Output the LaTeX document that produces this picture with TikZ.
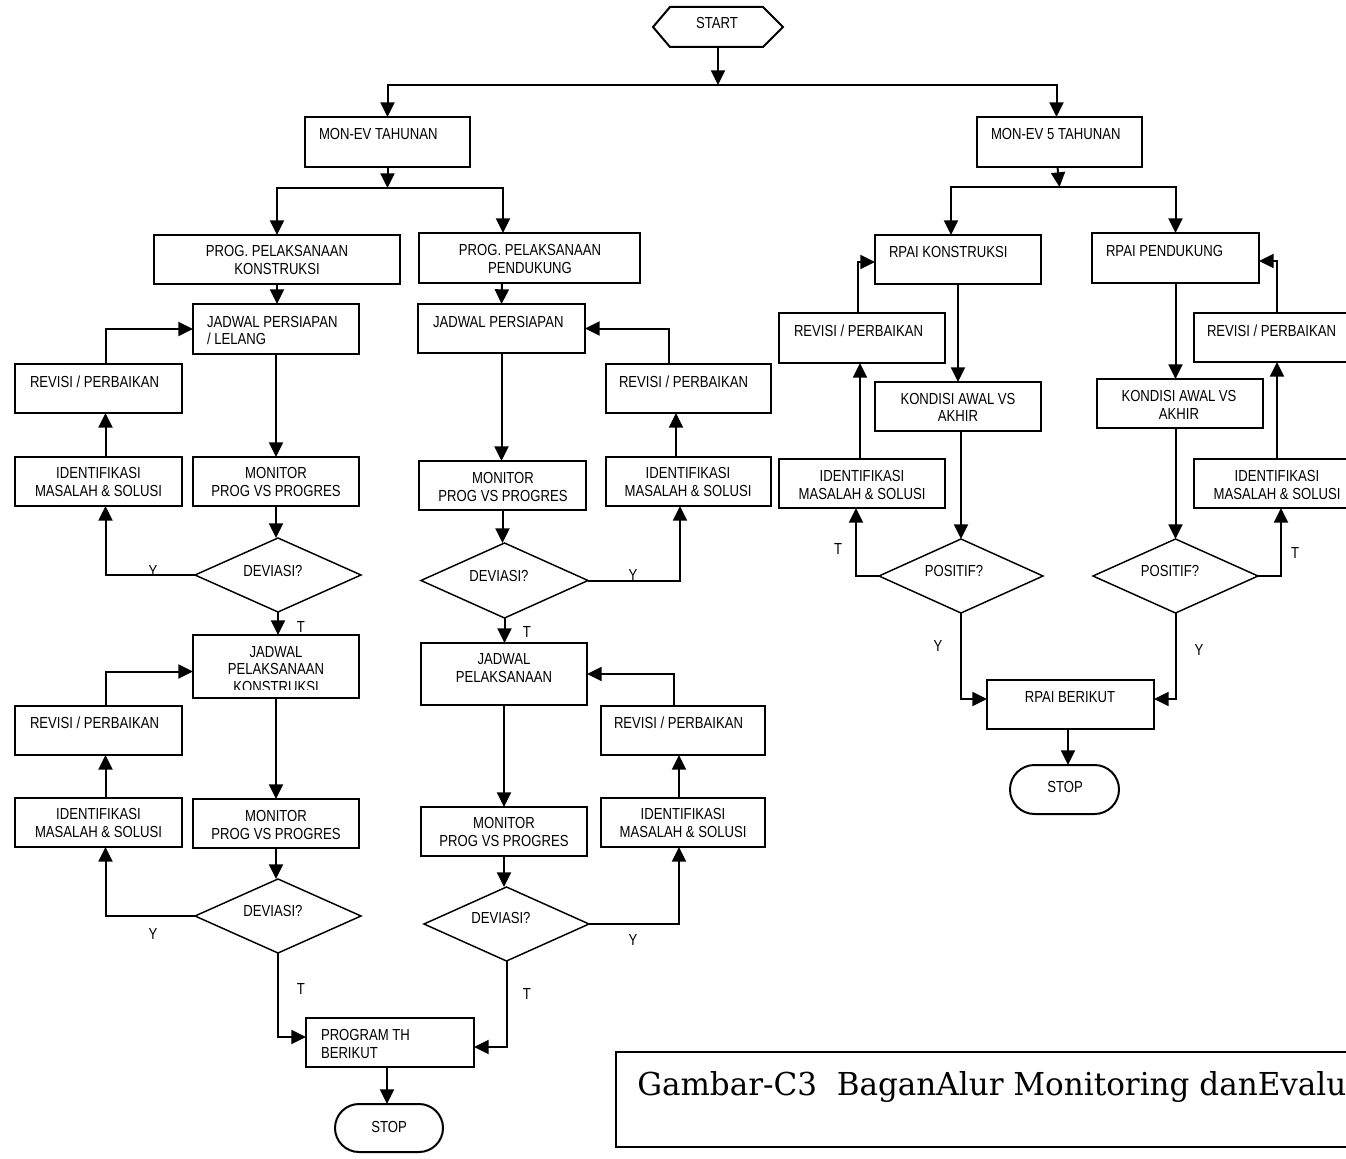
\documentclass[tikz,border=0pt]{standalone}
\usepackage{fontspec}
\usepackage{graphicx}
\setmainfont{Liberation Sans}
\newfontfamily\nar[FakeStretch=0.82]{Liberation Sans}
\newfontfamily\capfont{DejaVu Serif}
\usetikzlibrary{arrows.meta,shapes.geometric,shapes.misc,calc}
\newcommand\mybox[5]{\node[box, minimum width={(#4-#2)*0.75pt}, minimum height={(#5-#3)*0.75pt}] (#1) at ({(#2+#4)/2},{(#3+#5)/2}) {};}
\newcommand\mydia[5]{\node[dia, minimum width={(#4-#2)*0.75pt}, minimum height={(#5-#3)*0.75pt}] (#1) at ({(#2+#4)/2},{(#3+#5)/2}) {};}
\newcommand\myterm[5]{\node[term, minimum width={(#4-#2)*0.75pt}, minimum height={(#5-#3)*0.75pt}] (#1) at ({(#2+#4)/2},{(#3+#5)/2}) {};}
\begin{document}
\begin{tikzpicture}[x=0.75pt,y=-0.75pt,
 box/.style={draw,line width=1.5pt,rectangle,inner sep=0pt,outer sep=0pt},
 dia/.style={draw,line width=1.1pt,diamond,inner sep=0pt,outer sep=0pt},
 term/.style={draw,line width=1.5pt,rounded rectangle,inner sep=0pt,outer sep=0pt},
 txt/.style={inner sep=0pt,outer sep=0pt,font={\nar\fontsize{12pt}{13.2pt}\selectfont},align=center},
 ltxt/.style={txt,align=left,anchor=west},
 arr/.style={line width=1.5pt,-{Triangle[length=11pt,width=10.5pt]}},
 ln/.style={line width=1.5pt}]
\path[use as bounding box] (0,0) rectangle (1346,1159);
\fill[white] (0,0) rectangle (1346,1159);
\clip (0,0) rectangle (1346,1159);

% ---------- START ----------
\node[inner sep=0pt,outer sep=0pt,minimum width=97.5pt,minimum height=30pt] (start) at (718,27) {};
\draw[ln] (start.west) -- ($(start.north west)+(17,0)$) -- ($(start.north east)+(-20,0)$) -- (start.east) -- ($(start.south east)+(-20,0)$) -- ($(start.south west)+(17,0)$) -- cycle;
\node[txt] (starttxt) at (717,23) {START};
\coordinate (j0) at (718,85);

% ---------- top level boxes ----------
\mybox{monev}{305}{117}{470}{167}
\node[ltxt] (monevt) at (319,134) {MON-EV TAHUNAN};
\mybox{monevf}{977}{117}{1142}{167}
\node[ltxt] (moneft) at (991,134) {MON-EV 5 TAHUNAN};
\coordinate (j1) at (387.5,188);
\coordinate (j2) at (1059.5,187);

% ---------- left column ----------
\mybox{progk}{154}{235}{400}{284}
\node[txt] (progkt) at (277,260) {PROG. PELAKSANAAN\\KONSTRUKSI};
\mybox{jadka}{193}{304}{359}{354}
\node[ltxt] (jadkat) at (207,330.5) {JADWAL PERSIAPAN\\/ LELANG};
\mybox{revka}{15}{364}{182}{413}
\node[ltxt] (revkat) at (30,382) {REVISI / PERBAIKAN};
\mybox{idka}{15}{457}{182}{506}
\node[txt] (idkat) at (98.5,482) {IDENTIFIKASI\\MASALAH \& SOLUSI};
\mybox{monka}{193}{457}{359}{506}
\node[txt] (monkat) at (276,482) {MONITOR\\PROG VS PROGRES};
\mydia{devka}{195}{538}{361}{612}
\node[txt] (devkat) at (273,571) {DEVIASI?};
\mybox{jadkb}{193}{635}{359}{698}
\begin{scope}
\clip (193,635) rectangle (359,689);
\node[txt] (jadkbt) at (276,669.5) {JADWAL\\PELAKSANAAN\\KONSTRUKSI};
\end{scope}
\mybox{revkb}{15}{706}{182}{755}
\node[ltxt] (revkbt) at (30,723) {REVISI / PERBAIKAN};
\mybox{idkb}{15}{798}{182}{847}
\node[txt] (idkbt) at (98.5,823) {IDENTIFIKASI\\MASALAH \& SOLUSI};
\mybox{monkb}{193}{799}{359}{848}
\node[txt] (monkbt) at (276,825) {MONITOR\\PROG VS PROGRES};
\mydia{devkb}{195}{879}{361}{953}
\node[txt] (devkbt) at (273,911) {DEVIASI?};
\mybox{progth}{306}{1018}{474}{1067}
\node[ltxt] (progtht) at (321,1044) {PROGRAM TH\\BERIKUT};
\myterm{stopl}{335}{1104}{443}{1152}
\node[txt] (stoplt) at (389,1127) {STOP};

% ---------- middle column ----------
\mybox{progp}{419}{233}{640}{283}
\node[txt] (progpt) at (530,259) {PROG. PELAKSANAAN\\PENDUKUNG};
\mybox{jadpa}{418}{304}{585}{353}
\node[ltxt] (jadpat) at (433,322) {JADWAL PERSIAPAN};
\mybox{revpa}{606}{364}{771}{413}
\node[ltxt] (revpat) at (619,382) {REVISI / PERBAIKAN};
\mybox{idpa}{606}{457}{771}{506}
\node[txt] (idpat) at (688,482) {IDENTIFIKASI\\MASALAH \& SOLUSI};
\mybox{monpa}{419}{461}{586}{510}
\node[txt] (monpat) at (503,487) {MONITOR\\PROG VS PROGRES};
\mydia{devpa}{421}{543}{588}{618}
\node[txt] (devpat) at (499,576) {DEVIASI?};
\mybox{jadpb}{421}{643}{587}{705}
\node[txt] (jadpbt) at (504,668) {JADWAL\\PELAKSANAAN};
\mybox{revpb}{601}{706}{765}{755}
\node[ltxt] (revpbt) at (614,723) {REVISI / PERBAIKAN};
\mybox{idpb}{601}{798}{765}{847}
\node[txt] (idpbt) at (683,823) {IDENTIFIKASI\\MASALAH \& SOLUSI};
\mybox{monpb}{421}{807}{587}{856}
\node[txt] (monpbt) at (504,832) {MONITOR\\PROG VS PROGRES};
\mydia{devpb}{424}{887}{589}{961}
\node[txt] (devpbt) at (501,918) {DEVIASI?};

% ---------- right part ----------
\mybox{rpaik}{875}{235}{1041}{284}
\node[ltxt] (rpaikt) at (889,252) {RPAI KONSTRUKSI};
\mybox{rpaip}{1092}{233}{1259}{283}
\node[ltxt] (rpaipt) at (1106,251) {RPAI PENDUKUNG};
\mybox{revra}{779}{313}{945}{363}
\node[ltxt] (revrat) at (794,331) {REVISI / PERBAIKAN};
\mybox{kondra}{875}{382}{1041}{431}
\node[txt] (kondrat) at (958,407.5) {KONDISI AWAL VS\\AKHIR};
\mybox{idra}{779}{459}{945}{508}
\node[txt] (idrat) at (862,485) {IDENTIFIKASI\\MASALAH \& SOLUSI};
\mydia{posra}{879}{539}{1043}{613}
\node[txt] (posrat) at (954,571) {POSITIF?};
\mybox{revrb}{1194}{313}{1360}{362}
\node[ltxt] (revrbt) at (1207,331) {REVISI / PERBAIKAN};
\mybox{kondrb}{1097}{379}{1263}{428}
\node[txt] (kondrbt) at (1179,405) {KONDISI AWAL VS\\AKHIR};
\mybox{idrb}{1194}{459}{1360}{508}
\node[txt] (idrbt) at (1277,485) {IDENTIFIKASI\\MASALAH \& SOLUSI};
\mydia{posrb}{1093}{539}{1258}{613}
\node[txt] (posrbt) at (1170,571) {POSITIF?};
\mybox{rpaib}{987}{680}{1154}{729}
\node[txt] (rpaibt) at (1070,697) {RPAI BERIKUT};
\myterm{stopr}{1010}{765}{1119}{814}
\node[txt] (stoprt) at (1065,787) {STOP};

% ---------- caption ----------
\mybox{capbox}{616}{1052}{1362}{1147}
\node[anchor=base west,inner sep=0pt] (captxt) at (637,1095) {\resizebox{531.75pt}{18pt}{\capfont Gambar-C3\ \ BaganAlur Monitoring danEvalu}};

% ---------- labels ----------
\node[txt] (lya) at (153,571) {Y};
\node[txt] (lta) at (301,627) {T};
\node[txt] (lyb) at (153,934) {Y};
\node[txt] (ltb) at (301,989) {T};
\node[txt] (lyc) at (633,575) {Y};
\node[txt] (ltc) at (527,632) {T};
\node[txt] (lyd) at (633,940) {Y};
\node[txt] (ltd) at (527,994) {T};
\node[txt] (lte) at (838,549) {T};
\node[txt] (lye) at (938,646) {Y};
\node[txt] (ltf) at (1295,553) {T};
\node[txt] (lyf) at (1199,650) {Y};

% ---------- connectors ----------
\draw[arr] (start.south) -- (j0);
\draw[arr] (j0) -| (monev.north);
\draw[arr] (j0) -| ($(monevf.north)+(-3,0)$);
\draw[arr] (monev.south) -- (j1);
\draw[arr] (j1) -| (progk.north);
\draw[arr] (j1) -| ($(progp.north west)+(84,0)$);
\draw[arr] ($(monevf.south)+(-2,0)$) -- (j2);
\draw[arr] (j2) -| ($(rpaik.north)+(-7,0)$);
\draw[arr] (j2) -| (rpaip.north);

% left column
\draw[arr] (progk.south) -- (progk.south |- jadka.north);
\draw[arr] ($(revka.north)+(7,0)$) |- (jadka.west);
\draw[arr] ($(idka.north)+(7,0)$) -- ($(revka.south)+(7,0)$);
\draw[arr] (jadka.south) -- (monka.north);
\draw[arr] (monka.south) -- (monka.south |- devka.north);
\draw[arr] (devka.west) -| ($(idka.south)+(7,0)$);
\draw[arr] (devka.south) -- (devka.south |- jadkb.north);
\draw[arr] ($(revkb.north)+(7,0)$) |- ($(jadkb.west)+(0,5)$);
\draw[arr] ($(idkb.north)+(7,0)$) -- ($(revkb.south)+(7,0)$);
\draw[arr] (jadkb.south) -- (monkb.north);
\draw[arr] (monkb.south) -- (monkb.south |- devkb.north);
\draw[arr] (devkb.west) -| ($(idkb.south)+(7,0)$);
\draw[arr] (devkb.south) |- ($(progth.west)+(0,-5.5)$);
\coordinate (pthout) at ($(progth.south)+(-3,0)$);
\draw[arr] (pthout) -- (pthout |- stopl.north);

% middle column
\draw[arr] ($(progp.south west)+(83,0)$) -- (jadpa.north);
\draw[arr] ($(revpa.north)+(-19.5,0)$) |- (jadpa.east);
\draw[arr] ($(idpa.north)+(-12.5,0)$) -- ($(revpa.south)+(-12.5,0)$);
\draw[arr] (jadpa.south) -- (jadpa.south |- monpa.north);
\draw[arr] (monpa.south) -- (monpa.south |- devpa.north);
\draw[arr] (devpa.east) -| ($(idpa.south)+(-8.5,0)$);
\draw[arr] (devpa.south) -- (devpa.south |- jadpb.north);
\draw[arr] ($(revpb.north)+(-9,0)$) |- (jadpb.east);
\draw[arr] ($(idpb.north)+(-4,0)$) -- ($(revpb.south)+(-4,0)$);
\draw[arr] (jadpb.south) -- (monpb.north);
\draw[arr] (monpb.south) -- (monpb.south |- devpb.north);
\draw[arr] (devpb.east) -| ($(idpb.south)+(-4,0)$);
\draw[arr] (devpb.south) |- ($(progth.east)+(0,4.5)$);

% right part
\draw[arr] ($(revra.north)+(-4,0)$) |- ($(rpaik.west)+(0,2.5)$);
\draw[arr] (rpaik.south) -- (kondra.north);
\draw[arr] ($(idra.north)+(-2,0)$) -- ($(revra.south)+(-2,0)$);
\draw[arr] (posra.north |- kondra.south) -- (posra.north);
\draw[arr] (posra.west) -| ($(idra.south)+(-6,0)$);
\draw[arr] (posra.south) |- ($(rpaib.west)+(0,-5.5)$);
\draw[arr] (rpaip.south) -- (rpaip.south |- kondrb.north);
\draw[arr] (revrb.north) |- ($(rpaip.east)+(0,3)$);
\draw[arr] (idrb.north) -- (revrb.south);
\draw[arr] (posrb.north |- kondrb.south) -- (posrb.north);
\draw[arr] (posrb.east) -| ($(idrb.south)+(4,0)$);
\draw[arr] (posrb.south) |- ($(rpaib.east)+(0,-5.5)$);
\coordinate (rbout) at ($(rpaib.south)+(-2.5,0)$);
\draw[arr] (rbout) -- (rbout |- stopr.north);
\end{tikzpicture}
\end{document}
